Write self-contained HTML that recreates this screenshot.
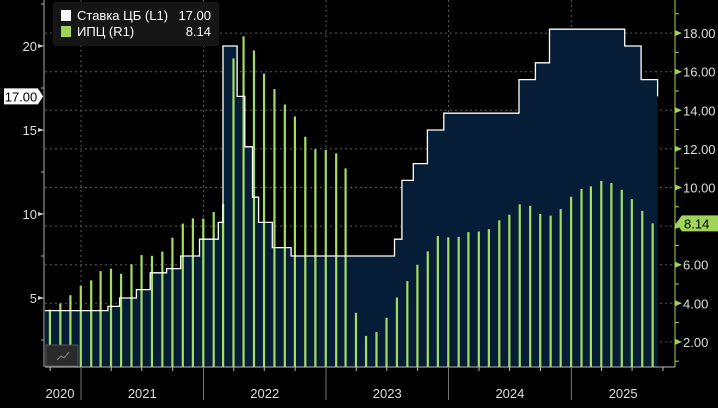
<!DOCTYPE html>
<html><head><meta charset="utf-8"><style>
html,body{margin:0;padding:0;background:#000;}
svg{display:block;font-family:"Liberation Sans","Noto Sans CJK SC",sans-serif;}
</style></head><body>
<svg id="chart" width="718" height="408" viewBox="0 0 718 408">
<g id="grid"></g>
<g id="area"></g>
<g id="bars"></g>
<g id="line"></g>
<g id="axes"></g>
<g>
<rect x="53" y="2" width="166" height="44" fill="#161616" rx="2"/>
<rect x="61" y="10" width="10" height="11" fill="#fff"/>
<text x="77" y="20" fill="#fff" font-size="13">Ставка ЦБ (L1)</text>
<text x="211" y="20" fill="#fff" font-size="13" text-anchor="end">17.00</text>
<rect x="61" y="26" width="10" height="11" fill="#9fd65a"/>
<text x="77" y="36" fill="#fff" font-size="13">ИПЦ (R1)</text>
<text x="211" y="36" fill="#fff" font-size="13" text-anchor="end">8.14</text>
</g>
<g>
<rect x="46" y="345" width="32" height="21" fill="#2a2a2a" stroke="#555"/>
<polyline points="57,360 61,356 64,358 69,352" fill="none" stroke="#888" stroke-width="1"/>
</g>
</svg>
<script>
const cpiMonths=["2020-09","2020-10","2020-11","2020-12","2021-01","2021-02","2021-03","2021-04","2021-05","2021-06","2021-07","2021-08","2021-09","2021-10","2021-11","2021-12","2022-01","2022-02","2022-03","2022-04","2022-05","2022-06","2022-07","2022-08","2022-09","2022-10","2022-11","2022-12","2023-01","2023-02","2023-03","2023-04","2023-05","2023-06","2023-07","2023-08","2023-09","2023-10","2023-11","2023-12","2024-01","2024-02","2024-03","2024-04","2024-05","2024-06","2024-07","2024-08","2024-09","2024-10","2024-11","2024-12","2025-01","2025-02","2025-03","2025-04","2025-05","2025-06","2025-07","2025-08"];
const cpiValues=[3.67,3.99,4.42,4.91,5.19,5.67,5.79,5.53,6.02,6.50,6.46,6.68,7.40,8.13,8.40,8.39,8.73,9.15,16.69,17.83,17.10,15.90,15.10,14.30,13.68,12.63,11.98,11.94,11.77,10.99,3.51,2.31,2.51,3.25,4.30,5.15,6.00,6.69,7.48,7.42,7.44,7.69,7.72,7.84,8.30,8.59,9.13,9.05,8.63,8.54,8.88,9.52,9.92,10.06,10.34,10.23,9.88,9.40,8.79,8.14];
const rateDates=["2020-09-15","2021-03-22","2021-04-26","2021-06-15","2021-07-26","2021-09-13","2021-10-25","2021-12-20","2022-02-14","2022-02-28","2022-04-11","2022-05-04","2022-05-27","2022-06-14","2022-07-25","2022-09-19","2023-07-24","2023-08-15","2023-09-18","2023-10-30","2023-12-18","2024-07-29","2024-09-16","2024-10-28","2025-06-09","2025-07-28","2025-09-15"];
const rateValues=[4.25,4.5,5,5.5,6.5,6.75,7.5,8.5,9.5,20,17,14,11,9.5,8,7.5,8.5,12,13,15,16,18,19,21,20,18,17];
const leftTicks=[5,10,15,20];
const rightTicks=[2,4,6,8,10,12,14,16,18];
const yearLabels=["2020","2021","2022","2023","2024","2025"];

const NS="http://www.w3.org/2000/svg";
const PL=45,PR=675,PB=367;
const base=Date.UTC(2020,11,31);
function xDate(s){const p=s.split("-").map(Number);const d=Date.UTC(p[0],p[1]-1,p[2]||1);return 80.7+(d-base)/864e5*(490.3/1461);}
function monthEnd(s){const p=s.split("-").map(Number);const d=new Date(Date.UTC(p[0],p[1],0));return d.toISOString().slice(0,10);}
function yL(v){return 382-v*16.8;}
function yR(v){return 380.5-v*19.3;}
function el(tag,attrs,parent){const e=document.createElementNS(NS,tag);for(const k in attrs)e.setAttribute(k,attrs[k]);parent.appendChild(e);return e;}
const grid=document.getElementById("grid"),area=document.getElementById("area"),bars=document.getElementById("bars"),line=document.getElementById("line"),axes=document.getElementById("axes");

// horizontal grid
rightTicks.forEach(v=>{const g=el("line",{x1:PL,x2:PR,y1:yR(v),y2:yR(v),stroke:"#5a5a5a","stroke-dasharray":"2,3"},grid);

});
// vertical year grid
const yearStarts=[];
for(let y=2021;y<=2025;y++){yearStarts.push(xDate(y+"-01-01"));}
yearStarts.forEach(x=>{const g=el("line",{x1:x,x2:x,y1:0,y2:PB,stroke:"#5a5a5a","stroke-dasharray":"2,3"},grid);

});

// rate step path
let pts=[];
for(let i=0;i<rateValues.length;i++){
 const x0=Math.max(PL,xDate(rateDates[i]));
 const x1=i+1<rateValues.length?xDate(rateDates[i+1]):x0;
 pts.push([x0,yL(rateValues[i])]);
 if(i+1<rateValues.length)pts.push([x1,yL(rateValues[i])]);
}
const xEnd=pts[pts.length-1][0];
let d="M"+pts.map(p=>p[0].toFixed(1)+","+p[1].toFixed(1)).join(" L");
const fill=el("path",{d:d+" L"+xEnd.toFixed(1)+","+PB+" L"+PL+","+PB+" Z",fill:"#061d38"},area);


const ln=el("path",{d:d,fill:"none",stroke:"#fff","stroke-width":1.3},line);



// cpi bars
cpiValues.forEach((v,i)=>{const x=xDate(monthEnd(cpiMonths[i]));const y=yR(v);
const b=el("rect",{x:x-1,y:y,width:2.2,height:PB-y,fill:"#a3dc5e"},bars);

});

// axes lines
el("line",{x1:PL-1,x2:PL-1,y1:0,y2:PB,stroke:"#aaa"},axes);
el("line",{x1:PR,x2:PR,y1:0,y2:PB,stroke:"#9fd65a"},axes);
el("line",{x1:PL,x2:PR,y1:PB,y2:PB,stroke:"#bbb"},axes);
// left ticks
for(let v=2.5;v<=22.5;v+=2.5){const y=yL(v);if(y<2||y>PB)continue;el("line",{x1:PL-4,x2:PL-1,y1:y,y2:y,stroke:"#aaa"},axes);}
leftTicks.forEach(v=>{const y=yL(v);
el("path",{d:`M${PL-7},${y-2} L${PL-1},${y} L${PL-7},${y+2} Z`,fill:"#ccc"},axes);
const t=el("text",{x:PL-8,y:y+5,fill:"#ddd","font-size":13,"text-anchor":"end"},axes);t.textContent=v;

});
// right ticks
for(let v=1;v<=19;v+=2){const y=yR(v);el("line",{x1:PR,x2:PR+4,y1:y,y2:y,stroke:"#9fd65a"},axes);}
rightTicks.forEach(v=>{const y=yR(v);
el("path",{d:`M${PR},${y-3} L${PR+7},${y} L${PR},${y+3} Z`,fill:"#9fd65a"},axes);
if(v===8)return;
const t=el("text",{x:PR+8,y:y+5,fill:"#ddd","font-size":13},axes);t.textContent=v.toFixed(2);

});
// x ticks quarterly
for(let y=2020;y<=2025;y++)for(let q=0;q<4;q++){const ds=y+"-"+String(q*3+1).padStart(2,"0")+"-01";const x=xDate(ds);if(x<PL||x>PR-5)continue;
el("line",{x1:x,x2:x,y1:PB,y2:q===0?400:PB+4,stroke:q===0?"#777":"#bbb"},axes);}
// year labels
const bounds=[PL].concat(yearStarts).concat([PR]);
yearLabels.forEach((lab,i)=>{let cx=(bounds[i]+bounds[i+1])/2;if(i===0)cx=60;
const t=el("text",{x:cx,y:398,fill:"#ddd","font-size":13,"text-anchor":"middle"},axes);t.textContent=lab;

});
// last value tags
const lastRate=rateValues[rateValues.length-1],ly=yL(lastRate);
const tg=el("path",{d:`M4,${ly-8} L38,${ly-8} L43,${ly} L38,${ly+8} L4,${ly+8} Z`,fill:"#fff"},axes);


const tt=el("text",{x:21,y:ly+5,fill:"#000","font-size":13,"text-anchor":"middle"},axes);tt.textContent=lastRate.toFixed(2);
const lastCpi=cpiValues[cpiValues.length-1],cy=yR(lastCpi);
const cg=el("path",{d:`M${PR+1},${cy} L${PR+7},${cy-8} L718,${cy-8} L718,${cy+8} L${PR+7},${cy+8} Z`,fill:"#9fd65a"},axes);


const ct=el("text",{x:PR+9,y:cy+5,fill:"#000","font-size":13},axes);ct.textContent=lastCpi.toFixed(2);
</script>
</body></html>
